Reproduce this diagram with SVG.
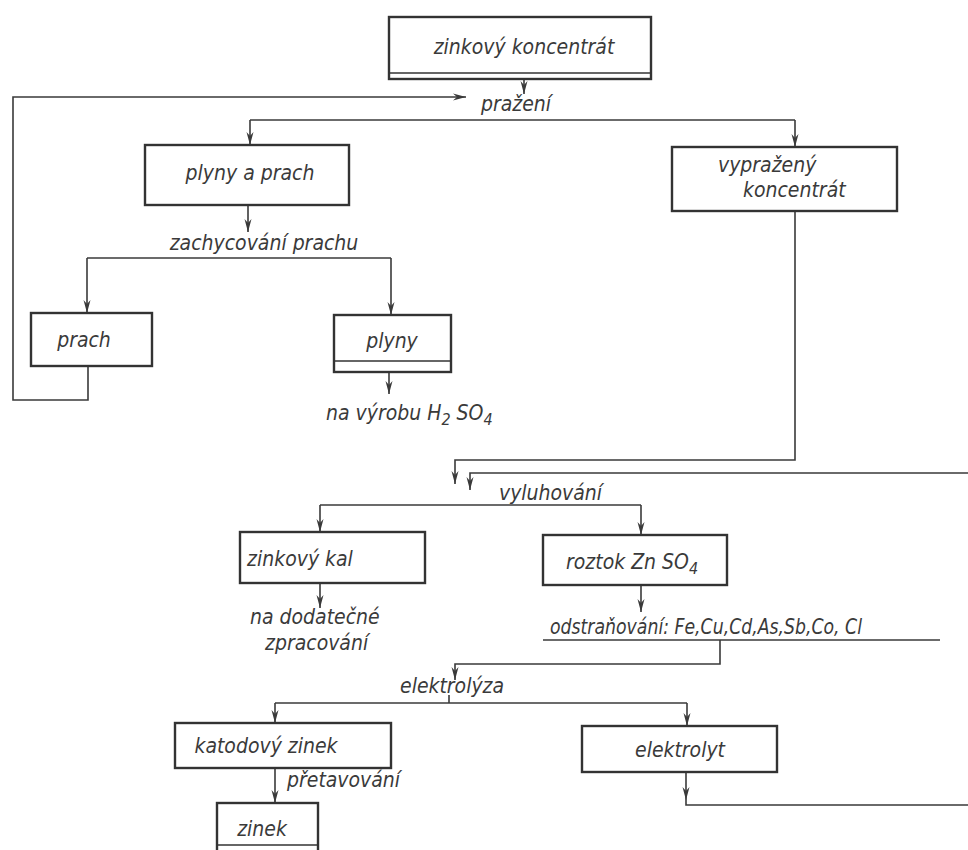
<svg xmlns="http://www.w3.org/2000/svg" width="968" height="850" viewBox="0 0 968 850">
<defs>
<marker id="arr" viewBox="0 -5 14 10" refX="13" refY="0" markerWidth="14" markerHeight="10" markerUnits="userSpaceOnUse" orient="auto">
<path d="M0,-3.5 L13,0 L0,3.5 L4,0 z" fill="#3a3a3a"/>
</marker>
<style>
.box{fill:none;stroke:#333;stroke-width:2.4}
.dbl{fill:none;stroke:#333;stroke-width:1.6}
.ln{fill:none;stroke:#3a3a3a;stroke-width:1.6}
.ar{marker-end:url(#arr)}
text{font-family:"DejaVu Sans Condensed","DejaVu Sans",sans-serif;font-style:italic;font-size:21px;fill:#3a3a3a}
.c{text-anchor:middle}
</style>
</defs>
<rect width="968" height="850" fill="#fff"/>

<g id="connectors">
<path class="ln ar" d="M524,80 V94"/>
<path class="ln ar" d="M88,366 V400 H13 V97 H466"/>
<path class="ln" d="M250,120 H795"/>
<path class="ln ar" d="M250,120 V145"/>
<path class="ln ar" d="M795,120 V147"/>
<path class="ln ar" d="M248,205 V232"/>
<path class="ln" d="M87,258 H391"/>
<path class="ln ar" d="M87,258 V313"/>
<path class="ln ar" d="M391,258 V315"/>
<path class="ln ar" d="M389,372 V394"/>
<path class="ln ar" d="M795,211 V460 H455 V484"/>
<path class="ln ar" d="M968,473 H470 V490"/>
<path class="ln" d="M320,505 H641"/>
<path class="ln ar" d="M320,505 V532"/>
<path class="ln ar" d="M641,505 V535"/>
<path class="ln ar" d="M320,583 V608"/>
<path class="ln ar" d="M641,585 V612"/>
<path class="ln" d="M543,640 H940"/>
<path class="ln ar" d="M720,640 V664 H455 V680"/>
<path class="ln" d="M275,703 H687"/>
<path class="ln" d="M449,703 V695"/>
<path class="ln ar" d="M275,703 V723"/>
<path class="ln ar" d="M687,703 V726"/>
<path class="ln ar" d="M275,768 V803"/>
<path class="ln ar" d="M686,772 V800"/>
<path class="ln" d="M686,800 V805 H968"/>
</g>

<g id="n-zinkovy-koncentrat">
<rect class="box" x="389" y="17" width="262" height="62"/>
<line class="dbl" x1="389" y1="73" x2="651" y2="73"/>
<text class="c" x="524" y="54">zinkový koncentrát</text>
</g>

<g id="t-prazeni"><text class="c" x="516" y="111">pražení</text></g>

<g id="n-plyny-a-prach">
<rect class="box" x="145" y="145" width="204" height="60"/>
<text class="c" x="250" y="180">plyny a prach</text>
</g>

<g id="n-vyprazeny">
<rect class="box" x="672" y="147" width="225" height="64"/>
<text x="718" y="172">vypražený<tspan x="743" dy="25">koncentrát</tspan></text>
</g>

<g id="t-zachycovani"><text class="c" x="264" y="250">zachycování prachu</text></g>

<g id="n-prach">
<rect class="box" x="31" y="313" width="121" height="53"/>
<text class="c" x="84" y="347">prach</text>
</g>

<g id="n-plyny">
<rect class="box" x="334" y="315" width="117" height="57"/>
<line class="dbl" x1="334" y1="361" x2="451" y2="361"/>
<text class="c" x="392" y="348">plyny</text>
</g>

<g id="t-h2so4"><text x="326" y="420">na výrobu H<tspan dy="5" font-size="16">2</tspan><tspan dy="-5"> SO</tspan><tspan dy="5" font-size="16">4</tspan></text></g>

<g id="t-vyluhovani"><text x="499" y="500">vyluhování</text></g>

<g id="n-zinkovy-kal">
<rect class="box" x="240" y="532" width="185" height="51"/>
<text class="c" x="300" y="566">zinkový kal</text>
</g>

<g id="n-roztok">
<rect class="box" x="543" y="535" width="184" height="50"/>
<text x="566" y="569">roztok Zn SO<tspan dy="5" font-size="16">4</tspan></text>
</g>

<g id="t-dodatecne">
<text x="250" y="624">na dodatečné<tspan x="265" dy="26">zpracování</tspan></text>
</g>

<g id="t-odstranovani"><text x="550" y="634" textLength="312" lengthAdjust="spacingAndGlyphs">odstraňování: Fe,Cu,Cd,As,Sb,Co, Cl</text></g>

<g id="t-elektrolyza"><text x="400" y="693">elektrolýza</text></g>

<g id="n-katodovy">
<rect class="box" x="175" y="723" width="216" height="45"/>
<text class="c" x="266" y="753">katodový zinek</text>
</g>

<g id="n-elektrolyt">
<rect class="box" x="582" y="726" width="195" height="46"/>
<text class="c" x="680" y="757">elektrolyt</text>
</g>

<g id="t-pretavovani"><text x="287" y="787">přetavování</text></g>

<g id="n-zinek">
<rect class="box" x="217" y="803" width="101" height="52"/>
<line class="dbl" x1="217" y1="845" x2="318" y2="845"/>
<text class="c" x="262" y="836">zinek</text>
</g>
</svg>
